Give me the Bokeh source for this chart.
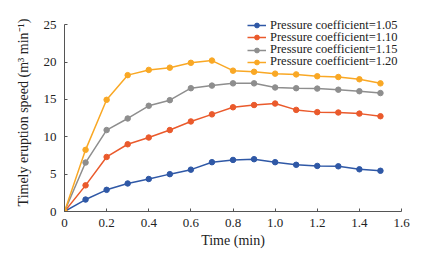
from bokeh.plotting import figure
from bokeh.models import Range1d, Legend, LegendItem, FixedTicker, CustomJSTickFormatter, Title
from bokeh.embed import file_html
from bokeh.resources import INLINE

time_min = [0, 0.1, 0.2, 0.3, 0.4, 0.5, 0.6, 0.7, 0.8, 0.9, 1.0, 1.1, 1.2, 1.3, 1.4, 1.5]
p105 = [0, 1.6, 2.9, 3.75, 4.35, 5.0, 5.6, 6.6, 6.9, 7.0, 6.6, 6.25, 6.1, 6.05, 5.65, 5.45]
p110 = [0, 3.5, 7.3, 9.0, 9.9, 10.9, 12.05, 13.0, 13.95, 14.25, 14.45, 13.6, 13.3, 13.25, 13.1, 12.75]
p115 = [0, 6.55, 10.9, 12.45, 14.15, 14.9, 16.5, 16.85, 17.15, 17.15, 16.6, 16.5, 16.45, 16.3, 16.1, 15.85]
p120 = [0, 8.25, 14.95, 18.25, 18.95, 19.25, 19.9, 20.2, 18.85, 18.7, 18.45, 18.35, 18.1, 18.0, 17.7, 17.15]
labels = ["Pressure coefficient=1.05", "Pressure coefficient=1.10",
          "Pressure coefficient=1.15", "Pressure coefficient=1.20"]
x_ticks = [0, 0.2, 0.4, 0.6, 0.8, 1.0, 1.2, 1.4, 1.6]
y_ticks = [0, 5, 10, 15, 20, 25]

colors = ["#2f58a6", "#ea5a2c", "#8e8e8e", "#f9a825"]
FONT = "Liberation Serif"

# y range extended a little above 25 (axis line bounded at 25) so the
# legend's first row, which sits at the level of 25, is not clipped
p = figure(width=415, height=250, output_backend="svg", toolbar_location=None,
           x_range=Range1d(0, 1.6), y_range=Range1d(0, 26.5),
           min_border_left=64, min_border_right=14, min_border_top=13, min_border_bottom=37)
p.outline_line_color = None
p.xgrid.visible = False
p.ygrid.visible = False

row_pitch = 12.3
for i, (ys, c, lab) in enumerate(zip([p105, p110, p115, p120], colors, labels)):
    r1 = p.line(time_min, ys, line_color=c, line_width=1.5)
    r2 = p.scatter(time_min, ys, size=5.5, fill_color=c, line_color=c)
    lg = Legend(items=[LegendItem(label=lab, renderers=[r1, r2])],
                location=(183, 178.5 - i * row_pitch), border_line_color=None,
                background_fill_alpha=0, padding=0, margin=0, spacing=0,
                label_text_font=FONT, label_text_font_size="12.5px",
                label_text_color="#222222",
                label_height=12, glyph_height=12, glyph_width=19,
                label_standoff=4)
    p.add_layout(lg, "center")

for ax in (p.xaxis[0], p.yaxis[0]):
    ax.axis_line_color = "#555555"
    ax.major_tick_line_color = "#555555"
    ax.major_tick_in = 3
    ax.major_tick_out = 0
    ax.minor_tick_line_color = None
    ax.major_label_text_font = FONT
    ax.major_label_text_font_size = "13px"
    ax.major_label_text_color = "#222222"
    ax.axis_label_text_font = FONT
    ax.axis_label_text_font_size = "14px"
    ax.axis_label_text_font_style = "normal"
    ax.axis_label_text_color = "#222222"

p.yaxis.bounds = (0, 25)
p.xaxis.ticker = FixedTicker(ticks=x_ticks)
p.yaxis.ticker = FixedTicker(ticks=y_ticks)
p.xaxis.formatter = CustomJSTickFormatter(code="return tick === 0 ? '0' : tick.toFixed(1);")
p.xaxis.major_label_standoff = 7
p.yaxis.major_label_standoff = 8
p.xaxis.axis_label = "Time (min)"
p.xaxis.axis_label_standoff = 3

ytitle = Title(text="Timely eruption speed (m\u00b3 min\u207b\u00b9)", align="center",
               offset=-12, standoff=20, text_font=FONT, text_font_size="14px",
               text_font_style="normal", text_color="#222222")
p.add_layout(ytitle, "left")

open("out.html", "w").write(file_html(p, INLINE))
